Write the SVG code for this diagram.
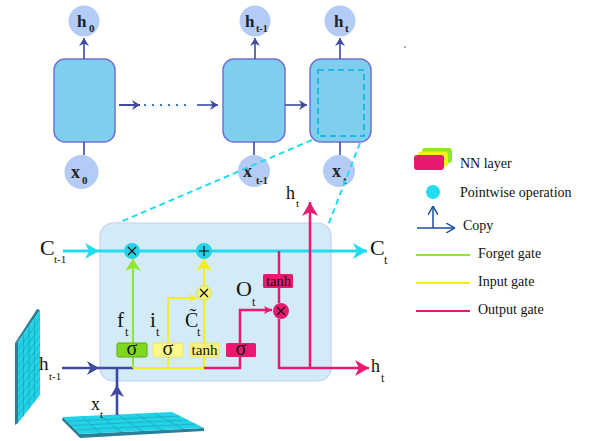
<svg xmlns="http://www.w3.org/2000/svg" width="596" height="441" viewBox="0 0 596 441">
<style>
.cell{fill:#7ecfee;stroke:#7272d6;stroke-width:1.5}
.st{fill:#b4ccf5}
.lbl{font-family:"Liberation Serif","Times New Roman",serif;fill:#111}
.top{font-family:"Liberation Serif","Times New Roman",serif;font-weight:bold;fill:#222}
.leg{font-family:"Liberation Serif","Times New Roman",serif;font-size:14px;fill:#111}
.db{stroke:#3d4aa0;stroke-width:1.6;fill:none}
.dbk{stroke:#3d4aa0;stroke-width:2.6;fill:none}
.cy{stroke:#22dcef;stroke-width:3;fill:none}
.gr{stroke:#8de82a;stroke-width:2;fill:none}
.ye{stroke:#f4ee1c;stroke-width:2;fill:none}
.mg{stroke:#e8196f;stroke-width:2.5;fill:none}
.dash{stroke:#22dcef;stroke-width:2;stroke-dasharray:6,4;fill:none}
.gl{stroke:#1a9cb4;stroke-width:0.6;fill:none}
.sg{font-family:"Liberation Serif","Times New Roman",serif;font-size:20px;fill:#111;text-anchor:middle}
</style>
<defs>
<marker id="aSm" markerUnits="userSpaceOnUse" markerWidth="8" markerHeight="10" refX="8" refY="5" orient="auto"><path d="M0,0 L8,5 L0,10 L2.5,5 z" fill="#3d4aa0"/></marker>
<marker id="aDb" markerUnits="userSpaceOnUse" markerWidth="12" markerHeight="14" refX="12" refY="7" orient="auto"><path d="M0,0 L12,7 L0,14 L3.5,7 z" fill="#3d4aa0"/></marker>
<marker id="aCy" markerUnits="userSpaceOnUse" markerWidth="14" markerHeight="16" refX="14" refY="8" orient="auto"><path d="M0,0 L14,8 L0,16 L4,8 z" fill="#22dcef"/></marker>
<marker id="aMg" markerUnits="userSpaceOnUse" markerWidth="14" markerHeight="16" refX="14" refY="8" orient="auto"><path d="M0,0 L14,8 L0,16 L4,8 z" fill="#e8196f"/></marker>
<marker id="aMs" markerUnits="userSpaceOnUse" markerWidth="8" markerHeight="8" refX="8" refY="4" orient="auto"><path d="M0,0 L8,4 L0,8 L2,4 z" fill="#e8196f"/></marker>
<marker id="aYs" markerUnits="userSpaceOnUse" markerWidth="8" markerHeight="8" refX="8" refY="4" orient="auto"><path d="M0,0 L8,4 L0,8 L2,4 z" fill="#f4ee1c"/></marker>
<marker id="aGr" markerUnits="userSpaceOnUse" markerWidth="12" markerHeight="16" refX="12" refY="8" orient="auto"><path d="M0,0 L12,8 L0,16 L3.5,8 z" fill="#8de82a"/></marker>
<marker id="aYe" markerUnits="userSpaceOnUse" markerWidth="12" markerHeight="16" refX="12" refY="8" orient="auto"><path d="M0,0 L12,8 L0,16 L3.5,8 z" fill="#f4ee1c"/></marker>
<marker id="aCp" markerUnits="userSpaceOnUse" markerWidth="9" markerHeight="10" refX="9" refY="5" orient="auto"><path d="M0,0 L9,5 L0,10" fill="none" stroke="#1a4fa0" stroke-width="1.5"/></marker>
</defs>

<rect width="596" height="441" fill="#ffffff"/>

<!-- top row nodes -->
<g id="cell0"><rect class="cell" x="54" y="59" width="61" height="83" rx="11"/></g>
<g id="cell1"><rect class="cell" x="223" y="59" width="62" height="83" rx="11"/></g>
<g id="cell2"><rect class="cell" x="310" y="59" width="61" height="83" rx="11"/><rect x="318" y="70" width="46" height="66" fill="none" stroke="#22b8e6" stroke-width="2" stroke-dasharray="6,4"/></g>
<g id="h0"><circle class="st" cx="84" cy="21" r="15.5"/><text class="top" x="77" y="27" font-size="17">h</text><text class="top" x="89" y="32" font-size="11">0</text></g>
<g id="ht1"><circle class="st" cx="255" cy="21" r="15.5"/><text class="top" x="245" y="27" font-size="17">h</text><text class="top" x="256" y="32" font-size="10">t-1</text></g>
<g id="ht"><circle class="st" cx="340" cy="21" r="15.5"/><text class="top" x="334" y="27" font-size="17">h</text><text class="top" x="345" y="32" font-size="11">t</text></g>
<g id="x0"><circle class="st" cx="81.5" cy="172" r="17"/><text class="top" x="71" y="178" font-size="18">x</text><text class="top" x="82" y="184" font-size="11">0</text></g>
<g id="xt1"><circle class="st" cx="254" cy="171" r="16"/><text class="top" x="243" y="177" font-size="18">x</text><text class="top" x="256" y="184" font-size="10">t-1</text></g>
<g id="xt"><circle class="st" cx="339" cy="171" r="16"/><text class="top" x="332" y="177" font-size="18">x</text><text class="top" x="343" y="184" font-size="11">t</text></g>

<!-- zoom dashed lines -->
<g id="zoom">
<line class="dash" x1="312" y1="140" x2="118" y2="223"/>
<line class="dash" x1="360" y1="143" x2="327" y2="228"/>
</g>

<!-- big LSTM cell -->
<g id="lstm"><rect x="100" y="223" width="231" height="158" rx="13" fill="#d3ebf7" stroke="#c6d0f2" stroke-width="1.2"/></g>

<!-- grids -->
<g id="gridH">
<polygon points="15,343 37,309 40,310 18,342" fill="#2a8098"/>
<polygon points="15,343 18,342 18,423 15,425" fill="#2a8098"/>
<polygon points="18,342 40,310 40,395 18,423" fill="#22d3e8"/>
<path class="gl" d="M23.5,334 V416.5 M29,326 V409.5 M34.5,318 V402.5 M18,350.1 L40,318.5 M18,358.2 L40,327 M18,366.3 L40,335.5 M18,374.4 L40,344 M18,382.5 L40,352.5 M18,390.6 L40,361 M18,398.7 L40,369.5 M18,406.8 L40,378 M18,414.9 L40,386.5"/>
</g>
<g id="gridX">
<polygon points="80,434 204,428 204,431 80,438" fill="#2a8098"/>
<polygon points="63,417 80,434 80,438 62,420" fill="#2a8098"/>
<polygon points="63,417 172,412 204,428 80,434" fill="#22d3e8"/>
<path class="gl" d="M81.2,416.2 L100.7,433 M99.3,415.3 L121.3,432 M117.5,414.5 L142,431 M135.7,413.7 L162.7,430 M153.8,412.8 L183.3,429 M67.3,421.3 L180,416 M71.5,425.5 L188,420 M75.8,429.8 L196,424"/>
</g>

<!-- connectors -->
<g id="connectors">
<line class="db" x1="84" y1="59" x2="84" y2="38" marker-end="url(#aSm)"/>
<line class="db" x1="255" y1="59" x2="255" y2="38" marker-end="url(#aSm)"/>
<line class="db" x1="340" y1="59" x2="340" y2="38" marker-end="url(#aSm)"/>
<line class="db" x1="84" y1="142" x2="84" y2="155"/>
<line class="db" x1="254" y1="142" x2="254" y2="155"/>
<line class="db" x1="340" y1="142" x2="340" y2="155"/>
<line x1="119" y1="105" x2="140" y2="105" stroke="#3d4aa0" stroke-width="2" marker-end="url(#aSm)"/>
<line x1="144" y1="105" x2="192" y2="105" stroke="#4a6ee0" stroke-width="2" stroke-dasharray="2,6"/>
<line class="db" x1="197" y1="105" x2="218" y2="105" marker-end="url(#aSm)"/>
<line class="db" x1="285" y1="105" x2="307" y2="105" marker-end="url(#aSm)"/>

<!-- cell state -->
<line class="cy" x1="63" y1="251" x2="99" y2="251" marker-end="url(#aCy)"/>
<line class="cy" x1="99" y1="251" x2="367" y2="251" marker-end="url(#aCy)"/>

<!-- inputs -->
<line class="dbk" x1="62" y1="368" x2="99" y2="368" marker-end="url(#aDb)"/>
<line class="dbk" x1="99" y1="368" x2="134" y2="368"/>
<line class="dbk" x1="117" y1="415" x2="117" y2="385" marker-end="url(#aDb)"/>
<line class="dbk" x1="117" y1="386" x2="117" y2="368"/>

<!-- forget -->
<line class="gr" x1="133" y1="368" x2="133" y2="259" marker-end="url(#aGr)"/>
<!-- input -->
<line class="ye" x1="133" y1="368" x2="204" y2="368"/>
<polyline class="ye" points="168,368 168,298 197,298" marker-end="url(#aYs)"/>
<line class="ye" x1="204" y1="368" x2="204" y2="300"/>
<line class="ye" x1="204" y1="286" x2="204" y2="259" marker-end="url(#aYe)"/>
<!-- output -->
<polyline class="mg" points="204,368 240,368 240,357"/>
<polyline class="mg" points="240,343 240,310 272,310" marker-end="url(#aMs)"/>
<line class="mg" x1="279" y1="251" x2="279" y2="274"/>
<line class="mg" x1="279" y1="288" x2="279" y2="303"/>
<polyline class="mg" points="279,319 279,368 369,368" marker-end="url(#aMg)"/>
<line class="mg" x1="310" y1="368" x2="310" y2="202" marker-end="url(#aMg)"/>
</g>

<!-- gate layers -->
<g id="sigmaF"><rect x="117" y="343" width="30" height="14" rx="1.5" fill="#7ed81e" stroke="#5aa812" stroke-width="1"/><text class="sg" x="132" y="355">σ</text></g>
<g id="sigmaI"><rect x="153" y="343" width="30" height="14" rx="1.5" fill="#fcf98a" stroke="#eee266" stroke-width="1"/><text class="sg" x="168" y="355">σ</text></g>
<g id="tanhC"><rect x="190" y="343" width="29" height="14" rx="1.5" fill="#fbf07a" stroke="#eee266" stroke-width="1"/><text class="lbl" x="191.5" y="355" font-size="15" textLength="26" lengthAdjust="spacingAndGlyphs">tanh</text></g>
<g id="sigmaO"><rect x="226" y="343" width="30" height="14" rx="1.5" fill="#e8196f"/><text class="sg" x="241" y="355">σ</text></g>
<g id="tanhO"><rect x="263" y="274" width="30" height="14" rx="1.5" fill="#e8196f"/><text class="lbl" x="266" y="286" font-size="15" textLength="25" lengthAdjust="spacingAndGlyphs">tanh</text></g>

<!-- pointwise ops -->
<g id="mulF"><circle cx="132" cy="251" r="8" fill="#26d2e6"/><path d="M128,247 L136,255 M136,247 L128,255" stroke="#111" stroke-width="1.2"/></g>
<g id="addC"><circle cx="204" cy="251" r="8" fill="#26d2e6"/><path d="M204,246 V256 M199,251 H209" stroke="#111" stroke-width="1.2"/></g>
<g id="mulI"><circle cx="204" cy="293" r="7.5" fill="#f2f27a" stroke="#dede50" stroke-width="0.8"/><path d="M200,289 L208,297 M208,289 L200,297" stroke="#111" stroke-width="1.2"/></g>
<g id="mulO"><circle cx="281" cy="311" r="8" fill="#e8196f"/><path d="M277,307 L285,315 M285,307 L277,315" stroke="#111" stroke-width="1.2"/></g>

<!-- labels -->
<g id="labels">
<text class="lbl" x="40" y="255" font-size="22">C</text><text class="lbl" x="54" y="263" font-size="11">t-1</text>
<text class="lbl" x="370" y="255" font-size="22">C</text><text class="lbl" x="384" y="264" font-size="12">t</text>
<text class="lbl" x="39" y="370" font-size="19">h</text><text class="lbl" x="49" y="380" font-size="11">t-1</text>
<text class="lbl" x="91" y="410" font-size="18">x</text><text class="lbl" x="100" y="418" font-size="11">t</text>
<text class="lbl" x="286" y="199" font-size="18">h</text><text class="lbl" x="296" y="207" font-size="11">t</text>
<text class="lbl" x="371" y="372" font-size="18">h</text><text class="lbl" x="381" y="382" font-size="12">t</text>
<text class="lbl" x="117" y="327" font-size="21">f</text><text class="lbl" x="125" y="336" font-size="12">t</text>
<text class="lbl" x="150" y="327" font-size="21">i</text><text class="lbl" x="156" y="336" font-size="12">t</text>
<text class="lbl" x="185" y="327" font-size="20">C&#x303;</text><text class="lbl" x="197" y="336" font-size="12">t</text>
<text class="lbl" x="236" y="296" font-size="22">O</text><text class="lbl" x="252" y="306" font-size="12">t</text>
</g>

<!-- legend -->
<g id="legend">
<rect x="422" y="148" width="30" height="15" rx="3" fill="#8de82a"/>
<rect x="418" y="151.5" width="30" height="15" rx="3" fill="#f4ee1c"/>
<rect x="414" y="155" width="30" height="15" rx="3" fill="#e8196f"/>
<text class="leg" x="460" y="168">NN layer</text>
<circle cx="433" cy="192" r="7" fill="#22dcef"/>
<text class="leg" x="460" y="197">Pointwise operation</text>
<line x1="433" y1="228" x2="433" y2="206" stroke="#1a4fa0" stroke-width="1.5" marker-end="url(#aCp)"/>
<line x1="417" y1="228" x2="455" y2="228" stroke="#1a4fa0" stroke-width="1.5" marker-end="url(#aCp)"/>
<text class="leg" x="463" y="230">Copy</text>
<line x1="416" y1="255" x2="470" y2="255" stroke="#8de82a" stroke-width="2"/>
<text class="leg" x="478" y="258">Forget gate</text>
<line x1="416" y1="283" x2="470" y2="283" stroke="#f4ee1c" stroke-width="2"/>
<text class="leg" x="478" y="286">Input gate</text>
<line x1="416" y1="311" x2="470" y2="311" stroke="#e8196f" stroke-width="2"/>
<text class="leg" x="478" y="314">Output gate</text>
</g>
<circle cx="405" cy="47" r="0.8" fill="#3d4aa0"/>
</svg>
